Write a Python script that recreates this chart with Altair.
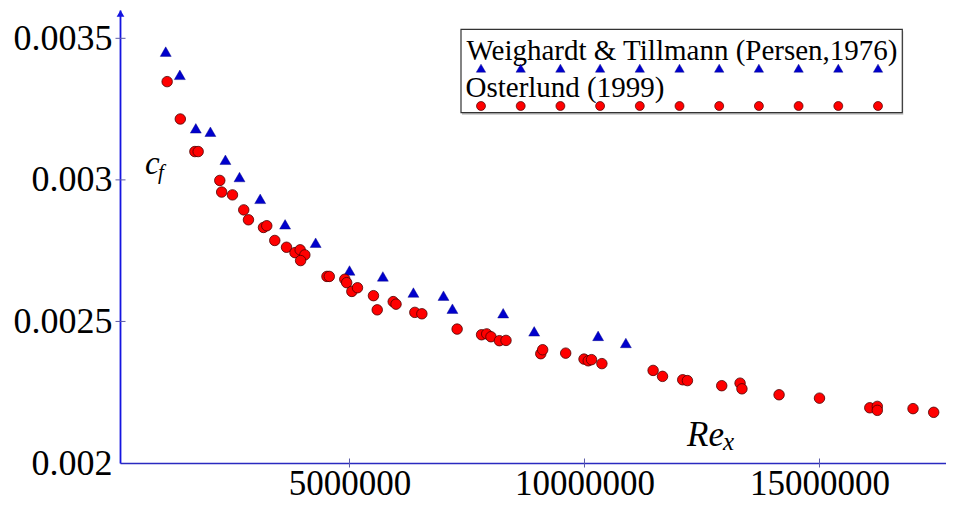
import altair as alt
import pandas as pd

# ---- data ----
tri_re = [1.09e6, 1.39e6, 1.73e6, 2.04e6, 2.36e6, 2.66e6, 3.10e6, 3.63e6, 4.28e6,
          5.00e6, 5.71e6, 6.36e6, 7.00e6, 7.19e6, 8.27e6, 8.93e6, 10.29e6, 10.88e6]
tri_cf = [0.003453, 0.003371, 0.003182, 0.003170, 0.003071, 0.003010, 0.002933, 0.002843, 0.002778,
          0.002680, 0.002659, 0.002602, 0.002591, 0.002545, 0.002529, 0.002465, 0.002449, 0.002424]

circ_re = [1.12e6, 1.40e6, 1.71e6, 1.78e6, 2.24e6, 2.28e6, 2.51e6, 2.75e6, 2.85e6, 3.17e6,
           3.24e6, 3.41e6, 3.66e6, 3.84e6, 3.95e6, 4.05e6, 3.96e6, 4.52e6, 4.57e6, 4.90e6,
           4.94e6, 5.05e6, 5.17e6, 5.51e6, 5.59e6, 5.93e6, 5.99e6, 6.39e6, 6.54e6, 7.29e6,
           7.81e6, 7.92e6, 8.01e6, 8.19e6, 8.33e6, 9.07e6, 9.11e6, 9.60e6, 9.99e6, 10.08e6,
           10.15e6, 10.37e6, 11.46e6, 11.66e6, 12.09e6, 12.19e6, 12.92e6, 13.31e6, 13.35e6, 14.14e6,
           15.00e6, 16.07e6, 16.23e6, 16.23e6, 16.99e6, 17.43e6]
circ_cf = [0.003347, 0.003215, 0.003100, 0.003100, 0.002998, 0.002957, 0.002947, 0.002894, 0.002859, 0.002832,
           0.002838, 0.002786, 0.002762, 0.002743, 0.002753, 0.002735, 0.002715, 0.002659, 0.002659, 0.002649,
           0.002637, 0.002606, 0.002619, 0.002591, 0.002541, 0.002570, 0.002561, 0.002532, 0.002527, 0.002473,
           0.002453, 0.002456, 0.002446, 0.002432, 0.002433, 0.002386, 0.002400, 0.002388, 0.002367, 0.002361,
           0.002365, 0.002351, 0.002327, 0.002306, 0.002294, 0.002291, 0.002273, 0.002282, 0.002262, 0.002241,
           0.002229, 0.002195, 0.002200, 0.002186, 0.002192, 0.002179]

x_ticks = [5000000, 10000000, 15000000]
y_labels = [0.002, 0.0025, 0.003, 0.0035]
y_ticks = [0.0025, 0.003, 0.0035]

series_names = ["Weighardt & Tillmann (Persen,1976)", "Osterlund (1999)"]
legend_slots = list(range(11))

# ---- layout ----
X_MIN, X_MAX = 117000, 17691800
Y_MIN, Y_MAX = 0.002, 0.0036
W, H = 826, 453
SERIF = "Liberation Serif"
BLUE_Y = "#1414e0"
BLUE_X = "#2a2ac0"
TICK_C = "#5b5ba8"

xs = alt.Scale(domain=[X_MIN, X_MAX], nice=False, zero=False)
ys = alt.Scale(domain=[Y_MIN, Y_MAX], nice=False, zero=False)

xaxis = alt.Axis(values=x_ticks, format="d", title=None, grid=False, ticks=False, tickSize=0,
                 labelPadding=3, labelFont=SERIF, labelFontSize=35, labelColor="black",
                 domainColor=BLUE_X, domainWidth=1.6, labelFlush=False, labelOverlap=False)
yaxis = alt.Axis(values=y_labels, format="~g", title=None, grid=False, ticks=False, tickSize=0,
                 labelPadding=8, labelFont=SERIF, labelFontSize=36, labelColor="black",
                 domainColor=BLUE_Y, domainWidth=1.8, labelFlush=False, labelOverlap=False)

XE = alt.X("Re:Q", scale=xs, axis=xaxis)
YE = alt.Y("cf:Q", scale=ys, axis=yaxis)

tri_df = pd.DataFrame({"Re": tri_re, "cf": tri_cf})
circ_df = pd.DataFrame({"Re": circ_re, "cf": circ_cf})

tri = alt.Chart(tri_df).mark_point(shape="triangle-up", filled=True, fill="#0000cc",
                                   stroke="#000080", strokeWidth=0.4, size=121, opacity=1).encode(x=XE, y=YE)
circ = alt.Chart(circ_df).mark_point(shape="circle", filled=True, fill="#ff0000",
                                     stroke="#4a0000", strokeWidth=0.8, size=110, opacity=1).encode(x=XE, y=YE)

xt = alt.Chart(pd.DataFrame({"Re": x_ticks})).mark_rule(color=TICK_C, strokeWidth=1).encode(
    x=XE, y=alt.value(H - 4.5), y2=alt.value(H + 4.5))
yt = alt.Chart(pd.DataFrame({"cf": y_ticks})).mark_rule(color=TICK_C, strokeWidth=1).encode(
    y=YE, x=alt.value(-4.5), x2=alt.value(5.5))

one = pd.DataFrame({"a": [0]})
arrow = alt.Chart(one).mark_point(shape="triangle-up", filled=True, fill=BLUE_Y, size=60,
                                  opacity=1, strokeWidth=0).encode(x=alt.value(0.5), y=alt.value(3.5))

def txt(s, x, y, size, style="normal"):
    return alt.Chart(one).mark_text(text=s, align="left", baseline="alphabetic", font=SERIF,
                                    fontSize=size, fontStyle=style, color="black").encode(
        x=alt.value(x), y=alt.value(y))

cf_c = txt("c", 25, 163.5, 33, "italic")
cf_f = txt("f", 38, 169, 21, "italic")
re_R = txt("Re", 567, 436, 35, "italic")
re_x = txt("x", 603, 440, 25, "italic")

# ---- legend box ----
LX0, LX1, LY0, LY1 = 341, 782.3, 19.3, 102.7
shadow = alt.Chart(one).mark_rect(fill="#c4c4c4").encode(
    x=alt.value(LX0 + 1), x2=alt.value(LX1 + 1), y=alt.value(LY0 + 2), y2=alt.value(LY1 + 2))
box = alt.Chart(one).mark_rect(fill="white", stroke="#333333", strokeWidth=1.2).encode(
    x=alt.value(LX0), x2=alt.value(LX1), y=alt.value(LY0), y2=alt.value(LY1))
lt1 = txt(series_names[0], 346.5, 50, 29)
lt2 = txt(series_names[1], 345.5, 86.5, 29)

def px_to_re(px):
    return X_MIN + px / W * (X_MAX - X_MIN)

def py_to_cf(py):
    return Y_MAX - py / H * (Y_MAX - Y_MIN)

leg_tri = pd.DataFrame({"Re": [px_to_re(361 + 39.7 * i) for i in legend_slots],
                        "cf": [py_to_cf(58.2)] * len(legend_slots)})
leg_circ = pd.DataFrame({"Re": [px_to_re(361 + 39.7 * i) for i in legend_slots],
                         "cf": [py_to_cf(96)] * len(legend_slots)})
ltri = alt.Chart(leg_tri).mark_point(shape="triangle-up", filled=True, fill="#0000cc",
                                     stroke="#000080", strokeWidth=0.4, size=88, opacity=1).encode(x=XE, y=YE)
lcirc = alt.Chart(leg_circ).mark_point(shape="circle", filled=True, fill="#ff0000",
                                       stroke="#4a0000", strokeWidth=0.7, size=80, opacity=1).encode(x=XE, y=YE)

chart = alt.layer(
    xt, yt, arrow, tri, circ, cf_c, cf_f, re_R, re_x, shadow, box, lt1, lt2, ltri, lcirc
).properties(
    width=W, height=H,
    autosize=alt.AutoSizeParams(type="none"),
    padding={"left": 112, "top": 2, "right": 0, "bottom": 41},
    background="white",
).configure_view(stroke=None)

chart.save("out.html", embed_options={"renderer": "svg", "actions": False})
